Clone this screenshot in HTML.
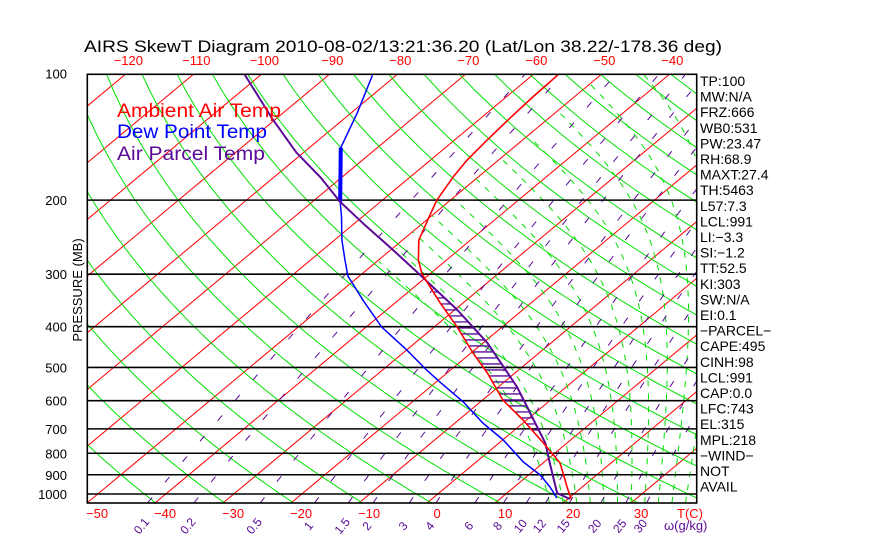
<!DOCTYPE html>
<html><head><meta charset="utf-8"><style>
html,body{margin:0;padding:0;background:#fff;}
svg{display:block;font-family:"Liberation Sans",sans-serif;}
</style></head><body>
<svg id="chart" width="870" height="560" viewBox="0 0 870 560" xmlns="http://www.w3.org/2000/svg">
<rect x="0" y="0" width="870" height="560" fill="#fff"/>
<defs><clipPath id="plotclip"><rect x="87.3" y="74.3" width="609.4" height="428.7"/></clipPath></defs>
<text x="84" y="52" font-size="17" textLength="638" lengthAdjust="spacingAndGlyphs" fill="#000">AIRS SkewT Diagram 2010-08-02/13:21:36.20 (Lat/Lon 38.22/-178.36 deg)</text>
<g id="bg" clip-path="url(#plotclip)"></g>
<g id="series" clip-path="url(#plotclip)"></g>
<g id="axes"></g>
<g>
<text x="117" y="117" font-size="19" fill="#ff0000" textLength="164" lengthAdjust="spacingAndGlyphs">Ambient Air Temp</text>
<text x="117" y="138" font-size="19" fill="#0000ff" textLength="150" lengthAdjust="spacingAndGlyphs">Dew Point Temp</text>
<text x="117" y="160" font-size="19" fill="#5a0a96" textLength="148" lengthAdjust="spacingAndGlyphs">Air Parcel Temp</text>
</g>
</svg>
<script>
// ---- data ----
const ambP = [100,114,128,144,161,176,200,219,249,278,300,351,401,462,515,598,667,756,844,891,963,1028];
const ambT = [-56.3,-56.1,-55.7,-55.2,-54.6,-53.7,-52,-50.2,-47.6,-44.1,-41.1,-33.4,-26.6,-19.7,-14.1,-7.0,-0.5,6.5,12.5,14.7,17.8,20.5];
const dewP = [101,124,150,202,219,249,278,303,346,401,455,504,542,604,678,744,839,901,963,1005,1022];
const dewT = [-83.5,-79.1,-75.4,-65.9,-63.1,-58.9,-54.9,-51.7,-45.2,-37.7,-29.9,-23.9,-19.4,-12.5,-5.9,0.1,6.9,11.7,15.3,17.4,18.2];
const parP = [100,128,154,176,202,227,263,306,365,437,504,557,621,693,756,844,926,995,1028];
const parT = [-102.7,-90.6,-81.1,-73.3,-65.9,-58.8,-49.6,-40.3,-29.6,-19.4,-12.2,-7.2,-2.2,2.8,6.8,11.0,14.6,17.4,20.3];
const pLevels = [100,200,300,400,500,600,700,800,900,1000];
const topTicks = [-120,-110,-100,-90,-80,-70,-60,-50,-40];
const botTicks = [-50,-40,-30,-20,-10,0,10,20,30];
const mixVals = [0.1,0.2,0.5,1,1.5,2,3,4,6,8,10,12,15,20,25,30];
const mixLabels = ["0.1","0.2","0.5","1","1.5","2","3","4","6","8","10","12","15","20","25","30"];
const statLabels = ["TP:100","MW:N/A","FRZ:666","WB0:531","PW:23.47","RH:68.9","MAXT:27.4","TH:5463","L57:7.3","LCL:991","LI:\u22123.3","SI:\u22121.2","TT:52.5","KI:303","SW:N/A","EI:0.1","\u2212PARCEL\u2212","CAPE:495","CINH:98","LCL:991","CAP:0.0","LFC:743","EL:315","MPL:218","\u2212WIND\u2212","NOT","AVAIL"];

// ---- axes functions ----
const L=87.3,R=696.7,TOP=74.3,BOT=503;
function Y(p){return 494+182.6*Math.log(p/1000);}
function X(T,p){return 427+6.8*T+1.2*(BOT-Y(p));}
const NS="http://www.w3.org/2000/svg";
function mk(tag,attrs,parent){const e=document.createElementNS(NS,tag);for(const k in attrs)e.setAttribute(k,attrs[k]);parent.appendChild(e);return e;}
const bg=document.getElementById('bg'),ser=document.getElementById('series'),ax=document.getElementById('axes');
function pts(arr){return arr.map(a=>a[0].toFixed(1)+','+a[1].toFixed(1)).join(' ');}
function es(T){return 6.112*Math.exp(17.67*T/(T+243.5));}

// isotherms
for(let T=-170;T<=50;T+=10){
  const l=mk('line',{x1:X(T,1050),y1:Y(1050),x2:X(T,90),y2:Y(90),stroke:'#ff0000','stroke-width':1},bg);
  
  
}
// dry adiabats
for(let th=180;th<=560;th+=10){
  const a=[];for(let p=1050;p>=95;p-=10){a.push([X(th*Math.pow(p/1000,0.2857)-273.15,p),Y(p)]);}
  const l=mk('polyline',{points:pts(a),fill:'none',stroke:'#00e000','stroke-width':1},bg);
  
  
}
// moist adiabats
for(let T0=18;T0<=40;T0+=2){
  let T=T0+273.15;const a=[];
  for(let p=1050;p>=100;p-=2){
    if(T-273.15<-50)break;
    a.push([X(T-273.15,p),Y(p)]);
    const e=es(T-273.15),rs=0.622*e/(p-e);
    const g=(287*T+2.5e6*rs)/(1005+2.5e6*2.5e6*rs*0.622/(287*T*T))/p;
    T-=2*g;
  }
  const l=mk('polyline',{points:pts(a),fill:'none',stroke:'#00e000','stroke-width':1,'stroke-dasharray':'6 7'},bg);
  
  
}
// mixing ratio lines
function Tw(w,p){const e=w*p/(622+w);const g=Math.log(e/6.112);return 243.5*g/(17.67-g);}
for(let i=0;i<mixVals.length;i++){
  const a=[];for(let p=1050;p>=100;p-=10)a.push([X(Tw(mixVals[i],p),p),Y(p)]);
  const l=mk('polyline',{points:pts(a),fill:'none',stroke:'#5a0a96','stroke-width':1,'stroke-dasharray':'7 20'},bg);
  
  
}
// pressure lines
for(const p of pLevels){
  const l=mk('line',{x1:L,x2:R,y1:Y(p),y2:Y(p),stroke:'#000','stroke-width':1.6},bg);
  
  
  const t=mk('text',{x:67,y:Y(p)+5,'font-size':13,'text-anchor':'end',fill:'#000'},ax);
  t.textContent=p;
  
  
}
// frame
const fr=mk('rect',{x:L,y:TOP,width:R-L,height:BOT-TOP,fill:'none',stroke:'#000','stroke-width':1.6},ax);


// top ticks
for(let i=0;i<topTicks.length;i++){
  const t=mk('text',{x:X(topTicks[i],100)+2,y:65,'font-size':13,'text-anchor':'middle',fill:'#ff0000'},ax);
  t.textContent=String(topTicks[i]).replace('-','\u2212');
  
  
}
// bottom ticks
for(let i=0;i<botTicks.length;i++){
  const t=mk('text',{x:X(botTicks[i],1050)+10,y:518,'font-size':13,'text-anchor':'middle',fill:'#ff0000'},ax);
  t.textContent=String(botTicks[i]).replace('-','\u2212');
  
  
}
const tc=mk('text',{x:677,y:518,'font-size':13,fill:'#ff0000'},ax);tc.textContent='T(C)';


// mixing labels
for(let i=0;i<mixVals.length;i++){
  const x=X(Tw(mixVals[i],1050),1050)-6;
  const t=mk('text',{x:x,y:530,'font-size':12,fill:'#5a0a96','text-anchor':'middle',transform:'rotate(-50 '+x+' 526)'},ax);
  t.textContent=mixLabels[i];
  
  
}
const wl=mk('text',{x:664,y:530,'font-size':13,fill:'#5a0a96'},ax);wl.textContent='\u03c9(g/kg)';


// y axis title
const yt=mk('text',{x:0,y:0,'font-size':13,fill:'#000','text-anchor':'middle',transform:'translate(82 290) rotate(-90)'},ax);
yt.textContent='PRESSURE (MB)';


// stats
for(let i=0;i<statLabels.length;i++){
  const t=mk('text',{x:700,y:86+i*15.6,'font-size':14,fill:'#000'},ax);
  t.textContent=statLabels[i];
  
  
}
// interpolation helper
function interp(P,T,p){for(let i=0;i<P.length-1;i++){if(p>=P[i]&&p<=P[i+1]){const f=(Math.log(p)-Math.log(P[i]))/(Math.log(P[i+1])-Math.log(P[i]));return T[i]+f*(T[i+1]-T[i]);}}return null;}
// hatching (CAPE)
for(let y=Y(320);y<=Y(705);y+=6){
  const p=1000*Math.exp((y-494)/182.6);
  const ta=interp(ambP,ambT,p),tp=interp(parP,parT,p);
  if(ta===null||tp===null||tp<=ta)continue;
  const l=mk('line',{x1:X(ta,p),x2:X(tp,p),y1:y,y2:y,stroke:'#5a0a96','stroke-width':1.3},ser);
  
  
}
// series
function series(P,T,color,w){
  const a=P.map((p,i)=>[X(T[i],p),Y(p)]);
  return mk('polyline',{points:pts(a),fill:'none',stroke:color,'stroke-width':w,'stroke-linejoin':'round'},ser);
}
const s1=series(dewP,dewT,'#0000ff',1.5);


const ti=[dewP.indexOf(150),dewP.indexOf(202)];
if(ti[0]>=0&&ti[1]>=0){
  const th=mk('line',{x1:X(dewT[ti[0]],dewP[ti[0]]),y1:Y(dewP[ti[0]]),x2:X(dewT[ti[1]],dewP[ti[1]]),y2:Y(dewP[ti[1]]),stroke:'#0000ff','stroke-width':4},ser);
  
  
}
const s2=series(parP,parT,'#5a0a96',2);


const s3=series(ambP,ambT,'#ff0000',1.6);


</script>
</body></html>
